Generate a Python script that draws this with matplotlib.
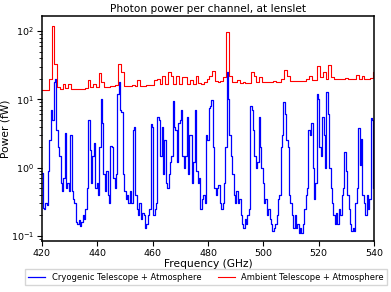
import numpy as np
import matplotlib
matplotlib.use("Agg")
import matplotlib.pyplot as plt

# cryogenic case read at 0.5 GHz, ambient case at 1 GHz
freq_cryo = np.arange(420, 540.25, 0.5)
freq_amb = np.arange(420, 541)

cryo = [0.85, 0.26, 0.25, 0.3, 0.28, 0.9, 2.5, 7, 5, 18,
        20, 3.5, 2, 1.5, 0.6, 0.45, 0.7, 3.2, 0.5, 0.6,
        0.45, 3.0, 0.45, 0.35, 0.3, 0.16, 0.15, 0.17, 0.14, 0.16,
        0.2, 0.18, 0.25, 0.5, 5, 1.8, 0.6, 1.5, 2.3, 0.5,
        0.6, 0.4, 2.0, 10, 4.5, 0.8, 0.45, 0.9, 0.4, 0.3,
        2.1, 2.0, 0.7, 0.5, 0.8, 12, 18, 7, 6.5, 0.8,
        0.45, 0.35, 0.4, 0.3, 0.45, 0.3, 3.5, 4, 0.4, 0.25,
        0.2, 0.3, 0.18, 0.22, 0.2, 0.13, 0.15, 0.2, 0.25, 4.3,
        4, 0.2, 0.25, 0.3, 5.5, 5.0, 1.5, 4, 0.8, 2.5,
        0.6, 0.5, 0.8, 1.2, 1.5, 9.5, 4, 3.5, 1.2, 4.5,
        5, 7, 1.5, 1.0, 1.5, 5.5, 0.8, 3, 3, 0.6,
        1.2, 7, 0.9, 0.6, 0.7, 0.25, 0.35, 0.4, 0.3, 3,
        2.5, 7.5, 8, 9.7, 2, 0.5, 0.4, 0.5, 0.55, 0.3,
        0.25, 0.3, 0.6, 2, 25, 10, 3, 1.5, 0.8, 0.4,
        0.3, 0.45, 0.3, 0.35, 0.2, 0.15, 0.13, 0.18, 0.15, 0.2,
        0.25, 8, 7, 3.5, 1.5, 1.0, 1.2, 5.5, 2, 1.0,
        0.6, 0.3, 0.35, 0.2, 0.25, 0.18, 0.15, 0.12, 0.13, 0.15,
        0.2, 0.35, 0.4, 2.0, 3, 9, 6, 2.5, 2, 0.4,
        0.3, 0.2, 0.13, 0.2, 0.13, 0.15, 0.11, 0.13, 0.11, 0.15,
        0.25, 0.4, 0.5, 3.5, 3, 4.5, 1, 0.35, 0.6, 12,
        10, 2, 1.5, 5.5, 3, 1, 13, 6, 1, 0.5,
        0.3, 0.2, 0.15, 0.22, 0.15, 0.25, 0.2, 0.4, 0.5, 1.7,
        0.9, 0.4, 0.25, 0.15, 0.12, 0.13, 0.12, 0.3, 0.5, 3.8,
        1.1, 2.6, 0.4, 0.3, 0.2, 0.4, 0.25, 0.35, 5.3, 5.0,
        0.5]

ambient = [13.5, 13.5, 13.8, 20, 120, 33, 15, 14.2, 17, 14.5,
           17, 14.2, 14, 14, 14.2, 14.2, 14.5, 19, 15, 16.5,
           15, 24, 18, 15, 15, 15.5, 15.5, 16, 33, 25,
           15.5, 15.5, 15.5, 16, 15.5, 19, 15.8, 15.8, 16, 16,
           16, 19, 20, 16.5, 22, 17, 25, 22, 17, 22,
           17, 21, 21, 17, 19, 17, 22, 17.5, 17, 18,
           19.5, 22, 26, 18.5, 18, 18.5, 21, 95, 22, 18,
           18, 19, 17.5, 18, 17.5, 17.5, 25, 22, 18, 21,
           18, 18, 18, 18, 18.5, 18, 18, 20, 27, 22,
           18.5, 18.5, 18.5, 18.5, 18.5, 18.5, 19.5, 22, 19, 19,
           31, 21, 25, 19.5, 32, 21, 19.5, 19.5, 19.5, 19.5,
           20.5, 19.5, 19.5, 19.8, 23, 20, 22, 20, 20, 20.5,
           25]

fig = plt.figure(figsize=(3.91, 2.92), dpi=100)
ax = fig.add_axes([0.107, 0.175, 0.85, 0.77])

ax.step(freq_cryo, cryo, where='mid', color='blue', lw=0.9,
        label='Cryogenic Telescope + Atmosphere')
ax.step(freq_amb, ambient, where='mid', color='red', lw=0.8,
        label='Ambient Telescope + Atmosphere')

ax.set_yscale('log')
ax.set_xlim(420, 540)
ax.set_ylim(0.085, 165)
ax.set_xticks(range(420, 541, 20))
for s in ax.spines.values():
    s.set_linewidth(1.1)

ax.set_title("Photon power per channel, at lenslet", fontsize=7.6, pad=3)
ax.set_xlabel("Frequency (GHz)", fontsize=7.7, labelpad=1)
ax.set_ylabel("Power (fW)", fontsize=7.7, labelpad=0)
ax.tick_params(labelsize=6.8, pad=2)

fig.legend(loc='lower center', bbox_to_anchor=(0.527, 0.01), ncol=2,
           fontsize=6.0, handlelength=2, columnspacing=2.0, fancybox=False)

fig.savefig("out.png", dpi=100)
